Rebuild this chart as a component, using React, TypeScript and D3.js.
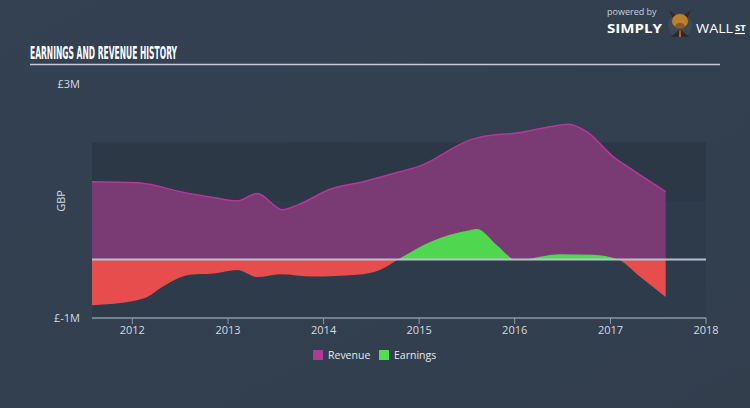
import React from "react";
import * as d3 from "d3";

const revenueDates = [
  "2011-07-31", "2012-01-20", "2012-02-27", "2012-07-02", "2012-11-05", "2013-02-05",
  "2013-04-23", "2013-07-27", "2013-09-23", "2014-01-26", "2014-06-01", "2014-10-19",
  "2015-01-04", "2015-07-13", "2015-08-21", "2016-01-21", "2016-05-15", "2016-07-23",
  "2016-10-03", "2017-01-11", "2017-03-16", "2017-07-31",
];
const revenueValues = [
  1.33, 1.31, 1.29, 1.16, 1.06, 1.0,
  1.13, 0.85, 0.93, 1.2, 1.33, 1.5,
  1.6, 2.04, 2.09, 2.17, 2.27, 2.31,
  2.18, 1.76, 1.56, 1.16,
];

const earningsDates = [
  "2011-07-31", "2012-01-15", "2012-02-27", "2012-04-27", "2012-08-09", "2012-11-05",
  "2013-02-05", "2013-04-23", "2013-07-19", "2013-11-22", "2014-05-08", "2014-08-04",
  "2014-10-12", "2015-02-12", "2015-07-13", "2015-08-10", "2015-10-24", "2016-01-09",
  "2016-06-21", "2016-10-26", "2017-01-30", "2017-04-23", "2017-07-31",
];
const earningsValues = [
  -0.78, -0.7, -0.64, -0.46, -0.26, -0.24,
  -0.18, -0.3, -0.25, -0.29, -0.26, -0.18,
  0.0, 0.3, 0.5, 0.52, 0.25, -0.01,
  0.09, 0.08, 0.0, -0.29, -0.64,
];

const xTickYears = [2012, 2013, 2014, 2015, 2016, 2017, 2018];
const yTickValues = [3, -1];
const yTickLabels = ["£3M", "£-1M"];
const legendLabels = ["Revenue", "Earnings"];

const FONT = "'Open Sans', 'Noto Sans', sans-serif";

export default function App() {
  const parse = d3.timeParse("%Y-%m-%d");
  const x = d3
    .scaleTime()
    .domain([parse("2011-07-31")!, new Date(2018, 0, 1)])
    .range([92, 706]);
  const y = d3.scaleLinear().domain([-1, 3]).range([318, 84]);

  const rev = revenueDates.map((d, i) => ({ d: parse(d)!, v: revenueValues[i] }));
  const earn = earningsDates.map((d, i) => ({ d: parse(d)!, v: earningsValues[i] }));

  const revArea = d3
    .area<{ d: Date; v: number }>()
    .x((p) => x(p.d))
    .y0(y(0))
    .y1((p) => y(p.v))
    .curve(d3.curveMonotoneX);
  const revLine = d3
    .line<{ d: Date; v: number }>()
    .x((p) => x(p.d))
    .y((p) => y(p.v))
    .curve(d3.curveMonotoneX);
  const earnArea = d3
    .area<{ d: Date; v: number }>()
    .x((p) => x(p.d))
    .y0(y(0))
    .y1((p) => y(p.v))
    .curve(d3.curveMonotoneX);

  const x0 = 92;
  const x1 = 706;

  return (
    <svg
      width={750}
      height={408}
      style={{ position: "absolute", left: 0, top: 0, display: "block" }}
      fontFamily={FONT}
    >
      <defs>
        <linearGradient id="bg" x1="0" y1="0" x2="1" y2="1">
          <stop offset="0" stopColor="#334152" />
          <stop offset="1" stopColor="#323e4c" />
        </linearGradient>
        <clipPath id="above">
          <rect x={0} y={0} width={750} height={y(0)} />
        </clipPath>
        <clipPath id="below">
          <rect x={0} y={y(0)} width={750} height={408 - y(0)} />
        </clipPath>
      </defs>
      <rect width={750} height={408} fill="url(#bg)" />

      {/* logo */}
      <text x={607} y={15} fontSize={9} fill="#c9d0d8" fontFamily={FONT}>
        powered by
      </text>
      <text x={607} y={33} fontSize={13} fontWeight={700} fill="#ffffff" fontFamily={FONT} textLength={55} lengthAdjust="spacingAndGlyphs">
        SIMPLY
      </text>
      <g>
        <circle cx={680} cy={25} r={12} fill="#3d4954" />
        <path d="M669 10 L673 19 L676 15 Z" fill="#3a2a1a" />
        <path d="M691 10 L687 19 L684 15 Z" fill="#3a2a1a" />
        <ellipse cx={680} cy={21} rx={8} ry={7} fill="#b9812e" />
        <ellipse cx={680} cy={26} rx={4.5} ry={3} fill="#8a5a22" />
        <path d="M671 37 L680 29 L689 37 Z" fill="#2b2b2b" />
        <path d="M679.3 30 L680.7 30 L681 37 L679 37 Z" fill="#e0542b" />
      </g>
      <text x={696} y={33} fontSize={13} fill="#ffffff" fontFamily={FONT} textLength={37} lengthAdjust="spacingAndGlyphs">
        WALL
      </text>
      <text x={735} y={31} fontSize={9.5} fontWeight={700} fill="#ffffff" fontFamily={FONT}>
        ST
      </text>
      <line x1={735} x2={745} y1={33.5} y2={33.5} stroke="#ffffff" strokeWidth={1.2} />

      {/* title */}
      <text
        x={30}
        y={59}
        fontSize={17}
        fontWeight={700}
        fill="#ffffff"
        fontFamily="'DejaVu Sans Condensed', 'DejaVu Sans', sans-serif"
        textLength={147}
        lengthAdjust="spacingAndGlyphs"
      >
        EARNINGS AND REVENUE HISTORY
      </text>
      <line x1={30} x2={720} y1={64.5} y2={64.5} stroke="#c5ccd4" strokeWidth={1.6} />

      {/* plot background */}
      <rect x={x0} y={y(2)} width={x1 - x0} height={y(-1) - y(2)} fill="#2e3b4a" />
      <rect x={x0} y={y(2)} width={x1 - x0} height={y(1) - y(2)} fill="#2c3846" />

      {/* revenue */}
      <path d={revArea(rev)!} fill="#7a3a74" />
      <path d={revLine(rev)!} fill="none" stroke="#b13a98" strokeWidth={1.5} />

      {/* earnings */}
      <path d={earnArea(earn)!} fill="#4fd84f" clipPath="url(#above)" />
      <path d={earnArea(earn)!} fill="#e84d4d" clipPath="url(#below)" />

      {/* zero line */}
      <line x1={x0} x2={x1} y1={y(0)} y2={y(0)} stroke="#b8c1cb" strokeWidth={2} />

      {/* y axis */}
      {yTickValues.map((v, i) => (
        <text key={v} x={80} y={y(v) + 4} fontSize={11} fill="#d5dae0" textAnchor="end">
          {yTickLabels[i]}
        </text>
      ))}
      <text
        transform={`translate(65,${y(1)}) rotate(-90)`}
        fontSize={11}
        fill="#d5dae0"
        textAnchor="middle"
      >
        GBP
      </text>

      {/* x axis */}
      <line x1={x0} x2={x1} y1={318} y2={318} stroke="#8d99a6" strokeWidth={1.5} />
      {xTickYears.map((yr) => {
        const xx = x(new Date(yr, 0, 1));
        return (
          <g key={yr}>
            <line x1={xx} x2={xx} y1={318} y2={324} stroke="#8d99a6" strokeWidth={1} />
            <text x={xx} y={334} fontSize={11} fill="#d5dae0" textAnchor="middle">
              {yr}
            </text>
          </g>
        );
      })}

      {/* legend */}
      <rect x={313} y={350} width={10} height={10} fill="#b03a95" />
      <text x={328} y={359} fontSize={10.5} fill="#e4e8ec">
        {legendLabels[0]}
      </text>
      <rect x={379} y={350} width={10} height={10} fill="#4fe04f" />
      <text x={394} y={359} fontSize={10.5} fill="#e4e8ec">
        {legendLabels[1]}
      </text>
    </svg>
  );
}
